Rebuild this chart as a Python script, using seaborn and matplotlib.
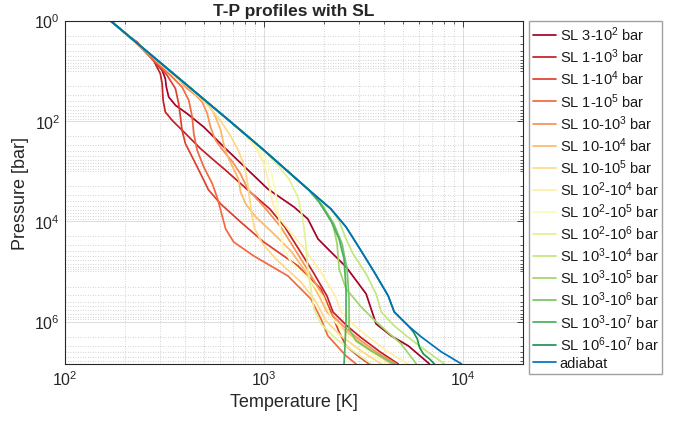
import numpy as np
import matplotlib
matplotlib.use("Agg")
import matplotlib.pyplot as plt
import seaborn as sns
from matplotlib.ticker import LogLocator, NullFormatter, FixedLocator

# ---------------- data (log10 of T [K] and P [bar]) ----------------
labels = ["SL 3-10$^2$ bar", "SL 1-10$^3$ bar", "SL 1-10$^4$ bar", "SL 1-10$^5$ bar",
          "SL 10-10$^3$ bar", "SL 10-10$^4$ bar", "SL 10-10$^5$ bar",
          "SL 10$^2$-10$^4$ bar", "SL 10$^2$-10$^5$ bar", "SL 10$^2$-10$^6$ bar",
          "SL 10$^3$-10$^4$ bar", "SL 10$^3$-10$^5$ bar", "SL 10$^3$-10$^6$ bar",
          "SL 10$^3$-10$^7$ bar", "SL 10$^6$-10$^7$ bar", "adiabat"]

logP_ad = [0, 2.002, 2.580, 3.376, 3.755, 4.114, 4.592, 5.010, 5.488, 5.807, 6.086, 6.305, 6.604, 6.843]
logT_ad = [2.227, 2.827, 2.998, 3.225, 3.336, 3.412, 3.488, 3.553, 3.624, 3.654, 3.725, 3.790, 3.891, 3.992]

logP_sl1 = [0, 0.478, 0.727, 0.992, 1.159, 1.325, 1.524, 1.689, 1.857, 2.122, 2.554, 3.357, 3.715, 3.954,
            4.353, 4.612, 4.910, 5.448, 5.747, 6.046, 6.285, 6.484, 6.843]
logT_sl1 = [2.227, 2.368, 2.429, 2.488, 2.504, 2.509, 2.521, 2.555, 2.614, 2.697, 2.807, 3.019, 3.150, 3.220,
            3.271, 3.336, 3.412, 3.513, 3.538, 3.563, 3.639, 3.725, 3.831]

logP_sl2 = [0, 0.269, 0.428, 0.793, 1.060, 1.259, 1.590, 1.823, 1.988, 2.287, 2.554, 2.785, 2.984, 3.376,
            3.755, 4.114, 4.592, 5.010, 5.488, 5.807, 6.086, 6.305, 6.604, 6.843]
logT_sl2 = [2.227, 2.308, 2.362, 2.445, 2.479, 2.488, 2.493, 2.504, 2.538, 2.614, 2.681, 2.748, 2.807, 2.918,
            3.029, 3.104, 3.180, 3.246, 3.316, 3.346, 3.417, 3.483, 3.583, 3.674]

logP_sl3 = [0, 0.269, 0.562, 0.861, 1.092, 1.359, 1.657, 1.922, 2.187, 2.454, 2.719, 3.052, 3.376, 3.655,
            4.014, 4.412, 4.890, 5.349, 5.807, 6.205, 6.484, 6.703, 6.843]
logT_sl3 = [2.227, 2.308, 2.395, 2.462, 2.513, 2.555, 2.571, 2.580, 2.588, 2.605, 2.639, 2.681, 2.721, 2.782,
            2.882, 2.998, 3.170, 3.286, 3.336, 3.377, 3.412, 3.478, 3.528]

logP_sl4 = [0, 0.269, 0.488, 0.793, 1.092, 1.325, 1.590, 1.922, 2.255, 2.586, 2.918, 3.251, 3.556, 3.855,
            4.153, 4.412, 4.691, 5.090, 5.548, 5.946, 6.285, 6.683, 6.843]
logT_sl4 = [2.227, 2.308, 2.368, 2.445, 2.530, 2.588, 2.622, 2.639, 2.647, 2.664, 2.697, 2.740, 2.767, 2.787,
            2.807, 2.847, 2.948, 3.120, 3.235, 3.286, 3.321, 3.412, 3.462]

logP_sl5 = [0, 1.165, 1.359, 1.484, 1.624, 1.857, 2.122, 2.386, 2.580, 2.819, 3.058, 3.357, 3.755, 4.114,
            4.592, 5.010, 5.488, 5.807, 6.086, 6.305, 6.604, 6.843]
logT_sl5 = [2.227, 2.570, 2.614, 2.656, 2.689, 2.715, 2.731, 2.756, 2.792, 2.842, 2.882, 2.918, 3.009, 3.084,
            3.160, 3.225, 3.296, 3.326, 3.397, 3.462, 3.563, 3.664]

logP_sl6 = [0, 1.325, 1.584, 1.723, 1.922, 2.181, 2.460, 2.659, 2.918, 3.157, 3.416, 3.655, 3.914, 4.193,
            4.592, 5.010, 5.488, 5.807, 6.086, 6.305, 6.604, 6.843]
logT_sl6 = [2.227, 2.620, 2.696, 2.731, 2.756, 2.782, 2.797, 2.812, 2.842, 2.872, 2.882, 2.908, 2.958, 3.034,
            3.135, 3.210, 3.276, 3.316, 3.377, 3.447, 3.548, 3.639]

logP_sl7 = [0, 1.404, 1.683, 2.002, 2.301, 2.600, 2.918, 3.257, 3.556, 3.855, 4.153, 4.452, 4.751, 5.209,
            5.608, 5.986, 6.285, 6.584, 6.843]
logT_sl7 = [2.227, 2.640, 2.716, 2.782, 2.832, 2.872, 2.903, 2.918, 2.928, 2.938, 2.953, 2.993, 3.059, 3.185,
            3.261, 3.311, 3.387, 3.488, 3.589]

logP_sl8 = [0, 2.002, 2.161, 2.361, 2.560, 2.799, 3.058, 3.357, 3.655, 3.894, 4.153, 4.592, 5.010, 5.488,
            5.807, 6.086, 6.305, 6.604, 6.843]
logT_sl8 = [2.227, 2.827, 2.872, 2.923, 2.963, 2.993, 3.014, 3.029, 3.044, 3.069, 3.120, 3.210, 3.286, 3.357,
            3.387, 3.457, 3.523, 3.624, 3.725]

logP_sl9 = [0, 2.002, 2.181, 2.420, 2.699, 3.058, 3.556, 4.054, 4.512, 4.811, 5.149, 5.508, 5.906, 6.245,
            6.544, 6.843]
logT_sl9 = [2.227, 2.827, 2.882, 2.943, 2.998, 3.039, 3.064, 3.079, 3.094, 3.135, 3.225, 3.296, 3.336, 3.412,
            3.513, 3.614]

logP_sl10 = [0, 2.002, 2.261, 2.560, 2.859, 3.157, 3.516, 3.954, 4.452, 4.950, 5.349, 5.747, 6.046, 6.345,
             6.584, 6.843]
logT_sl10 = [2.227, 2.827, 2.908, 2.993, 3.064, 3.125, 3.170, 3.195, 3.210, 3.220, 3.235, 3.251, 3.286, 3.362,
             3.447, 3.538]

logP_sl11 = [0, 2.002, 2.580, 3.376, 3.755, 3.994, 4.353, 4.651, 5.050, 5.448, 5.807, 6.066, 6.285, 6.584, 6.843]
logT_sl11 = [2.227, 2.827, 2.998, 3.225, 3.336, 3.377, 3.412, 3.447, 3.513, 3.563, 3.589, 3.649, 3.715, 3.815, 3.906]

logP_sl12 = [0, 2.002, 2.580, 3.376, 3.695, 4.054, 4.452, 4.950, 5.349, 5.707, 5.946, 6.185, 6.444, 6.843]
logT_sl12 = [2.227, 2.827, 2.998, 3.225, 3.296, 3.346, 3.367, 3.377, 3.412, 3.488, 3.548, 3.614, 3.689, 3.765]

logP_sl13 = [0, 2.002, 2.580, 3.376, 3.655, 4.054, 4.452, 4.950, 5.548, 6.145, 6.384, 6.584, 6.843]
logT_sl13 = [2.227, 2.827, 2.998, 3.225, 3.286, 3.351, 3.392, 3.417, 3.427, 3.427, 3.462, 3.538, 3.654]

logP_sl14 = [0, 2.002, 2.580, 3.376, 3.616, 3.994, 4.353, 4.751, 5.349, 5.946, 6.444, 6.843]
logT_sl14 = [2.227, 2.827, 2.998, 3.225, 3.276, 3.336, 3.377, 3.402, 3.412, 3.412, 3.407, 3.402]

logP_sl15 = [0, 2.002, 2.580, 3.376, 3.755, 4.114, 4.592, 5.010, 5.488, 5.807, 6.086, 6.205, 6.345, 6.504,
             6.644, 6.743, 6.843]
logT_sl15 = [2.227, 2.827, 2.998, 3.225, 3.336, 3.412, 3.488, 3.553, 3.624, 3.654, 3.725, 3.750, 3.770, 3.780,
             3.800, 3.831, 3.856]

profiles = [(logP_sl1, logT_sl1), (logP_sl2, logT_sl2), (logP_sl3, logT_sl3), (logP_sl4, logT_sl4),
            (logP_sl5, logT_sl5), (logP_sl6, logT_sl6), (logP_sl7, logT_sl7), (logP_sl8, logT_sl8),
            (logP_sl9, logT_sl9), (logP_sl10, logT_sl10), (logP_sl11, logT_sl11), (logP_sl12, logT_sl12),
            (logP_sl13, logT_sl13), (logP_sl14, logT_sl14), (logP_sl15, logT_sl15), (logP_ad, logT_ad)]

# ---------------- style ----------------
sns.set_theme(style="white")
plt.rcParams["font.family"] = ["Liberation Sans", "DejaVu Sans"]
plt.rcParams["mathtext.fontset"] = "custom"
plt.rcParams["mathtext.rm"] = "Liberation Sans"
plt.rcParams["mathtext.it"] = "Liberation Sans:italic"
plt.rcParams["mathtext.bf"] = "Liberation Sans:bold"

cmap = plt.get_cmap("RdYlGn")
colors = [cmap(v) for v in np.linspace(0.0, 0.9, 15)] + ["#0072BD"]

W, H = 681, 431
fig = plt.figure(figsize=(W / 100, H / 100), dpi=100)
ax = fig.add_axes([65 / W, 1 - 365 / H, (523 - 65) / W, (365 - 21.5) / H])

for (lp, lt), c, lab in zip(profiles, colors, labels):
    sns.lineplot(x=10 ** np.array(lt), y=10 ** np.array(lp), sort=False, estimator=None,
                 color=c, lw=1.25, ax=ax, label=lab)

ax.set_xscale("log")
ax.set_yscale("log")
ax.set_xlim(100, 2e4)
ax.set_ylim(7e6, 1)

ax.xaxis.set_major_locator(FixedLocator([1e2, 1e3, 1e4]))
ax.set_xticklabels(["$10^2$", "$10^3$", "$10^4$"])
ax.yaxis.set_major_locator(FixedLocator([1e0, 1e2, 1e4, 1e6]))
ax.set_yticklabels(["$10^0$", "$10^2$", "$10^4$", "$10^6$"])
ax.xaxis.set_minor_locator(LogLocator(base=10, subs=np.arange(2, 10), numticks=20))
ymin = [m * 10 ** k for k in range(0, 7) for m in range(2, 10)] + [10, 1e3, 1e5]
ax.yaxis.set_minor_locator(FixedLocator(ymin))
ax.xaxis.set_minor_formatter(NullFormatter())
ax.yaxis.set_minor_formatter(NullFormatter())

ax.tick_params(which="both", direction="in", top=True, right=True, colors="#262626",
               labelsize=11.5, labelcolor="#262626")
ax.tick_params(which="major", length=4, width=0.6)
ax.tick_params(which="minor", length=2, width=0.5)
ax.grid(which="major", color="#dcdcdc", lw=0.7, ls="-")
ax.grid(which="minor", color="#c4c4c4", lw=0.6, ls=(0, (1, 2)))
ax.set_axisbelow(True)
for s in ax.spines.values():
    s.set_color("#262626")
    s.set_linewidth(0.8)

ax.set_xlabel("Temperature [K]", fontsize=13, color="#262626", labelpad=4)
ax.set_ylabel("Pressure [bar]", fontsize=13, color="#262626", labelpad=4)
ax.set_title("T-P profiles with SL", fontsize=12.5, fontweight="bold", pad=4)

leg = ax.legend(loc="upper left", bbox_to_anchor=(529 / W, 1 - 22 / H), bbox_transform=fig.transFigure,
                fontsize=10.5, frameon=True, fancybox=False, borderaxespad=0, borderpad=0.25,
                labelspacing=0.24, handlelength=1.6, handletextpad=0.25)
leg.get_frame().set_edgecolor("#8a8a8a")
leg.get_frame().set_linewidth(1.0)
for t in leg.get_texts():
    t.set_color("#1a1a1a")

fig.savefig("out.png", dpi=100)
